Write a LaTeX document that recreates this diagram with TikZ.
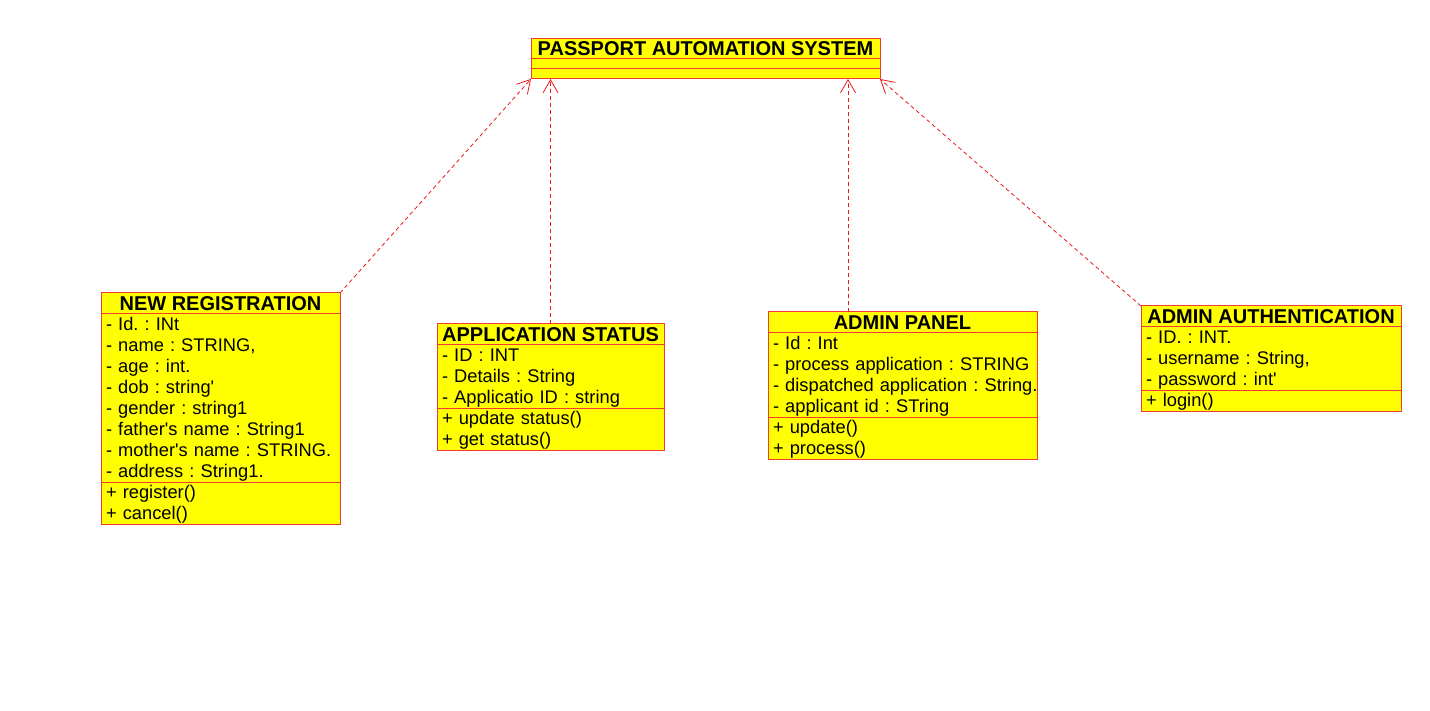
\documentclass[tikz,border=0pt]{standalone}
\usepackage{fontspec}
\setmainfont{Liberation Sans}
\usetikzlibrary{positioning,arrows.meta}
\definecolor{umlyellow}{RGB}{255,255,0}
\definecolor{umlred}{RGB}{240,60,50}
\definecolor{linkred}{RGB}{235,25,25}
\newcommand{\umlstrut}{\rule[-4.5pt]{0pt}{21pt}}
\tikzset{
	classtitle/.style={rectangle, draw=umlred, fill=umlyellow, line width=1pt, inner sep=0pt, outer sep=0pt, minimum height=21pt, anchor=north west, font=\fontsize{20}{21}\selectfont\bfseries},
	classpart/.style={rectangle, draw=umlred, fill=umlyellow, line width=1pt, inner xsep=5pt, inner ysep=0pt, outer sep=0pt, align=left, font=\fontsize{18.3}{21}\selectfont\frenchspacing, execute at begin node=\umlstrut, execute at end node=\umlstrut},
	classempty/.style={rectangle, draw=umlred, fill=umlyellow, line width=1pt, inner sep=0pt, outer sep=0pt, minimum height=10pt},
	mydashed/.style={draw=linkred, line width=0.8pt, dash pattern=on 4pt off 3pt}
}

\begin{document}
\begin{tikzpicture}[x=1pt, y=-1pt]
		\useasboundingbox (0,0) rectangle (1430,711);
		
		% main class
		\node[classtitle, minimum width=349pt, minimum height=20pt] at (531,39) (pas) {PASSPORT AUTOMATION SYSTEM};
		\node[classempty, minimum width=349pt, below=0pt of pas] (pasa) {};
		\node[classempty, minimum width=349pt, below=0pt of pasa] (pasb) {};
		
		% new registration
		\node[classtitle, minimum width=239pt] at (101,293) (nr) {NEW REGISTRATION};
		\node[classpart, text width=229pt, below=0pt of nr] (nra) {- Id. : INt\\- name : STRING,\\- age : int.\\- dob : string\textquotesingle\\- gender : string1\\- father\textquotesingle s name : String1\\- mother\textquotesingle s name : STRING.\\- address : String1.};
		\node[classpart, text width=229pt, below=0pt of nra] (nrm) {+ register()\\+ cancel()};
		
		% application status
		\node[classtitle, minimum width=227pt] at (437,324) (as) {APPLICATION STATUS};
		\node[classpart, text width=217pt, below=0pt of as] (asa) {- ID : INT\\- Details : String\\- Applicatio ID : string};
		\node[classpart, text width=217pt, below=0pt of asa] (asm) {+ update status()\\+ get status()};
		
		% admin panel
		\node[classtitle, minimum width=269pt] at (768,312) (ap) {ADMIN PANEL};
		\node[classpart, text width=259pt, below=0pt of ap] (apa) {- Id : Int\\- process application : STRING\\\mbox{- dispatched application : String.}\\- applicant id : STring};
		\node[classpart, text width=259pt, below=0pt of apa] (apm) {+ update()\\+ process()};
		
		% admin authentication
		\node[classtitle, minimum width=260pt] at (1141,306) (aa) {ADMIN AUTHENTICATION};
		\node[classpart, text width=250pt, below=0pt of aa] (aaa) {- ID. : INT.\\- username : String,\\- password : int\textquotesingle};
		\node[classpart, text width=250pt, below=0pt of aaa] (aam) {+ login()};
		
		%Lines
		\coordinate (aptop) at (848,312);
		
		\draw[mydashed, -{Straight Barb[length=13pt,width=15pt]}] (nr.north east) -- (pasb.south west);
		\draw[mydashed, -{Straight Barb[length=13pt,width=15pt]}] (as.north) -- (as.north |- pasb.south);
		\draw[mydashed, -{Straight Barb[length=13pt,width=15pt]}] (aptop) -- (aptop |- pasb.south);
		\draw[mydashed, -{Straight Barb[length=13pt,width=15pt]}] (aa.north west) -- (pasb.south east);
		
	\end{tikzpicture}
\end{document}
